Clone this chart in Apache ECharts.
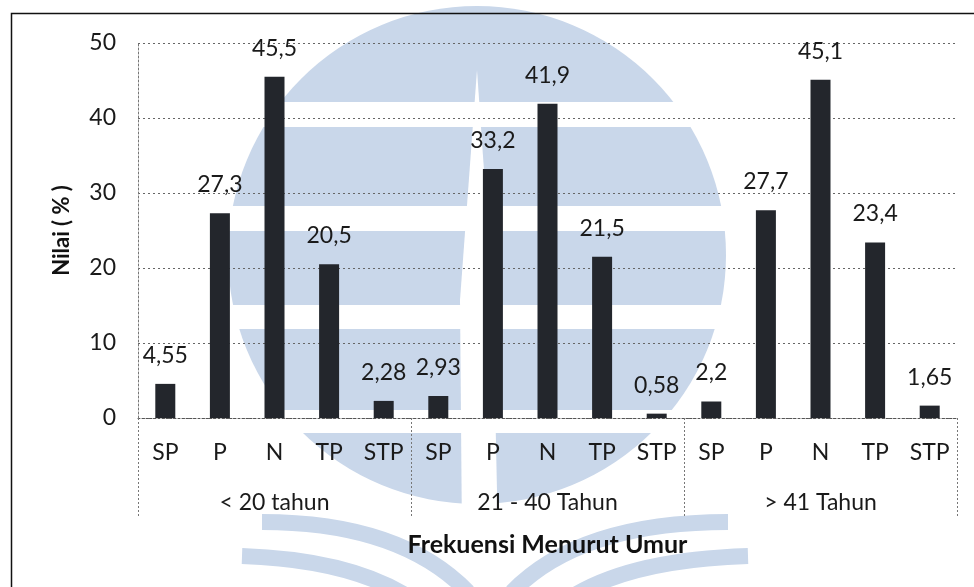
<!DOCTYPE html>
<html>
<head>
<meta charset="utf-8">
<script src="https://cdn.jsdelivr.net/npm/echarts@6/dist/echarts.min.js"></script>
<style>
  html, body { margin: 0; padding: 0; background: #fff; }
  #chart { width: 974px; height: 587px; }
</style>
</head>
<body>
<div id="chart"></div>
<script>
// Response categories repeated for every age group
const categories = ['SP', 'P', 'N', 'TP', 'STP', 'SP', 'P', 'N', 'TP', 'STP', 'SP', 'P', 'N', 'TP', 'STP'];
// Age groups (second level of the category axis)
const ageGroups = ['< 20 tahun', '21 - 40 Tahun', '> 41 Tahun'];
// Percentages per response, group by group
const values = [4.55, 27.3, 45.5, 20.5, 2.28, 2.93, 33.2, 41.9, 21.5, 0.58, 2.2, 27.7, 45.1, 23.4, 1.65];
// Value axis ticks
const yTicks = [0, 10, 20, 30, 40, 50];

const FONT = 'Lato, "Open Sans", sans-serif';
const WM = '#c9d7ea';

// Faint emblem in the background, built from simple shapes
const emblem = [
  { type: 'circle', shape: { cx: 477, cy: 255, r: 249 }, style: { fill: WM } },
  // horizontal white bands
  { type: 'rect', shape: { x: 200, y: 102, width: 580, height: 25 }, style: { fill: '#fff' } },
  { type: 'rect', shape: { x: 200, y: 206, width: 580, height: 25 }, style: { fill: '#fff' } },
  { type: 'rect', shape: { x: 200, y: 305, width: 580, height: 24 }, style: { fill: '#fff' } },
  { type: 'rect', shape: { x: 200, y: 410, width: 580, height: 23 }, style: { fill: '#fff' } },
  // central wedge
  { type: 'polygon', shape: { points: [[477, 70], [493, 300], [498, 540], [462, 540], [460, 300]] }, style: { fill: '#fff' } },
  // swooshes
  { type: 'bezierCurve', shape: { x1: 262, y1: 522, cpx1: 400, cpy1: 522, x2: 468, y2: 592 }, style: { stroke: WM, lineWidth: 16, fill: null } },
  { type: 'bezierCurve', shape: { x1: 242, y1: 556, cpx1: 360, cpy1: 560, x2: 420, y2: 605 }, style: { stroke: WM, lineWidth: 16, fill: null } },
  { type: 'bezierCurve', shape: { x1: 728, y1: 522, cpx1: 580, cpy1: 522, x2: 512, y2: 592 }, style: { stroke: WM, lineWidth: 16, fill: null } },
  { type: 'bezierCurve', shape: { x1: 748, y1: 556, cpx1: 620, cpy1: 560, x2: 560, y2: 605 }, style: { stroke: WM, lineWidth: 16, fill: null } }
].map(e => Object.assign({ z: -10, silent: true }, e));

// Outer frame of the figure
emblem.push({
  type: 'rect', z: -5, silent: true,
  shape: { x: 11.5, y: 13.5, width: 1000, height: 620 },
  style: { fill: null, stroke: '#111', lineWidth: 1.5 }
});

const chart = echarts.init(document.getElementById('chart'), null, { renderer: 'canvas' });

chart.setOption({
  animation: false,
  backgroundColor: '#fff',
  textStyle: { fontFamily: FONT },
  graphic: { elements: emblem },
  grid: { left: 138, right: 17, top: 43, bottom: 169 },
  xAxis: [
    {
      type: 'category',
      data: categories,
      position: 'bottom',
      axisLine: { show: true, lineStyle: { color: '#555', type: [2, 2], width: 1 } },
      axisTick: { show: false },
      axisLabel: { interval: 0, margin: 23, color: '#1a1a1a', fontSize: 23, fontFamily: FONT },
      name: 'Frekuensi Menurut Umur',
      nameLocation: 'middle',
      nameGap: 114,
      nameTextStyle: { fontSize: 25, fontWeight: 'bold', color: '#111', fontFamily: FONT }
    },
    {
      type: 'category',
      data: ageGroups,
      position: 'bottom',
      axisLine: { show: false },
      axisTick: { show: true, interval: 0, length: 100, lineStyle: { color: '#777', type: [2, 2], width: 1 } },
      axisLabel: { interval: 0, margin: 73, color: '#1a1a1a', fontSize: 23, fontFamily: FONT },
      splitLine: { show: false }
    }
  ],
  yAxis: {
    type: 'value',
    min: yTicks[0],
    max: yTicks[yTicks.length - 1],
    interval: yTicks[1] - yTicks[0],
    axisLine: { show: true, lineStyle: { color: '#777', type: [2, 2], width: 1 } },
    axisTick: { show: false },
    axisLabel: { margin: 22, color: '#1a1a1a', fontSize: 23, fontFamily: FONT },
    splitLine: { show: true, lineStyle: { color: '#666', type: [2, 3], width: 1 } },
    name: 'Nilai ( % )',
    nameLocation: 'middle',
    nameRotate: 90,
    nameGap: 65,
    nameTextStyle: { fontSize: 22, fontWeight: 'bold', color: '#111', fontFamily: FONT }
  },
  series: [{
    type: 'bar',
    data: values,
    barWidth: 20,
    itemStyle: { color: '#23262c' },
    label: {
      show: true,
      position: 'top',
      distance: 17,
      fontSize: 23,
      color: '#1a1a1a',
      fontFamily: FONT,
      formatter: p => String(p.value).replace('.', ',')
    }
  }]
});
</script>
</body>
</html>
